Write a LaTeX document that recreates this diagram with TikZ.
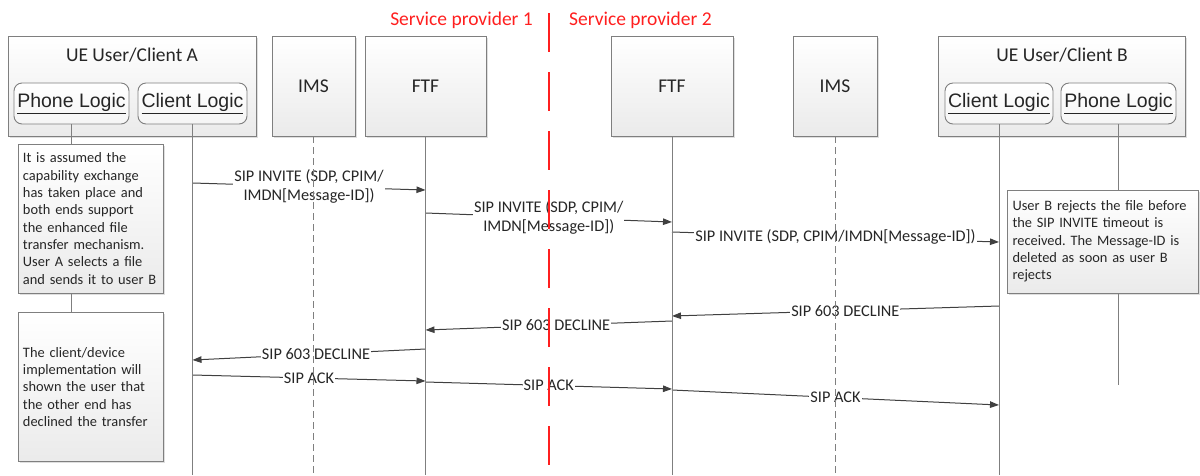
\documentclass[tikz,border=0pt]{standalone}
\usepackage{fontspec}
\setmainfont{Carlito}
\newfontfamily\logicfont{Liberation Sans}
\usepackage{xcolor}
\usepackage{tikz}
\usetikzlibrary{arrows.meta,positioning,shadows}
\frenchspacing

\definecolor{boxline}{HTML}{7F7F7F}
\definecolor{msgline}{HTML}{404040}
\definecolor{txt}{HTML}{262626}
\definecolor{spred}{HTML}{FF1F1F}

\begin{document}
\begin{tikzpicture}[x=1pt,y=-1pt,>={Triangle[length=9pt,width=6.5pt]},
  font=\fontsize{16.3}{19}\selectfont,text=txt,
  ent/.style={draw=boxline,line width=0.9pt,top color=white,bottom color=black!8,
    drop shadow={opacity=0.25,shadow xshift=1.5pt,shadow yshift=-1.5pt},
    minimum height=100pt,inner sep=0pt},
  title/.style={font=\fontsize{19.5}{23}\selectfont},
  logic/.style={draw=boxline,line width=0.9pt,rounded corners=8pt,top color=white,
    bottom color=black!4,minimum height=41pt,inner sep=0pt,
    font=\logicfont\fontsize{19.5}{22}\selectfont},
  note/.style={ent,align=left,font=\fontsize{14.4}{17.3}\selectfont},
  life/.style={draw=boxline,line width=0.9pt},
  imslife/.style={life,dash pattern=on 7pt off 4pt},
  split/.style={draw=spred,line width=2.6pt,dash pattern=on 39pt off 20pt},
  spname/.style={text=spred,inner sep=0pt,font=\fontsize{19.5}{23}\selectfont},
  msg/.style={draw=msgline,line width=1pt,->},
  lbl/.style={fill=white,inner sep=1pt,align=center}]
  \useasboundingbox (0,0) rectangle (1200,475);

  % entities
  \node[ent,minimum width=248pt] (uea) at (132,86) {};
  \node[title] (ueaname) at (132,55) {UE User/Client A};
  \node[logic,minimum width=115pt] (pla) at (71.5,103.5) {\underline{Phone Logic}};
  \node[logic,minimum width=109pt] (cla) at (192.5,103.5) {\underline{Client Logic}};
  \node[ent,title,minimum width=83pt] (ims1) at (313.5,86) {IMS};
  \node[ent,title,minimum width=121pt] (ftf1) at (425.5,86) {FTF};
  \node[ent,title,minimum width=122pt] (ftf2) at (672,86) {FTF};
  \node[ent,title,minimum width=84pt] (ims2) at (835,86) {IMS};
  \node[ent,minimum width=247pt] (ueb) at (1061.5,86) {};
  \node[title] (uebname) at (1062,55) {UE User/Client B};
  \node[logic,minimum width=108pt] (clb) at (999,103.5) {\underline{Client Logic}};
  \node[logic,minimum width=115pt] (plb) at (1118.5,103.5) {\underline{Phone Logic}};

  % provider border
  \coordinate (sptop) at (549,13);
  \coordinate (spbot) at (549,475);
  \coordinate (sphead) at (549,20);
  \node[spname,left=16pt of sphead] (sp1) {Service provider 1};
  \node[spname,right=20pt of sphead] (sp2) {Service provider 2};

  % notes
  \node[note,minimum width=145pt,minimum height=149pt,text width=135pt] (noteA1) at (90.5,218.5)
    {It is assumed the\\capability exchange\\has taken place and\\both ends support\\the enhanced file\\transfer mechanism.\\User A selects a file\\and sends it to user B};
  \node[note,minimum width=145pt,minimum height=149pt,text width=135pt] (noteA2) at (90.5,387)
    {The client/device\\implementation will\\shown the user that\\the other end has\\declined the transfer};
  \node[note,minimum width=191pt,minimum height=103pt,text width=180pt] (noteB) at (1102.5,241.5)
    {User B rejects the file before\\the SIP INVITE timeout is\\received. The Message-ID is\\deleted as soon as user B\\rejects};

  % messages
  \draw[msg] (cla |- 0,183) -- node[lbl]{SIP INVITE (SDP, CPIM/\\IMDN[Message-ID])} (ftf1 |- 0,190);
  \draw[msg] (ftf1 |- 0,213) -- node[lbl]{SIP INVITE (SDP, CPIM/\\IMDN[Message-ID])} (ftf2 |- 0,222);
  \draw[msg] (ftf2 |- 0,232) -- node[lbl]{SIP INVITE (SDP, CPIM/IMDN[Message-ID])} (clb |- 0,242);
  \draw[msg] (clb |- 0,306) -- node[lbl,pos=0.47]{SIP 603 DECLINE} (ftf2 |- 0,316);
  \draw[msg] (ftf2 |- 0,321) -- node[lbl,pos=0.47]{SIP 603 DECLINE} (ftf1 |- 0,330);
  \draw[msg] (ftf1 |- 0,349) -- node[lbl,pos=0.47]{SIP 603 DECLINE} (cla |- 0,360);
  \draw[msg] (cla |- 0,375) -- node[lbl]{SIP ACK} (ftf1 |- 0,381);
  \draw[msg] (ftf1 |- 0,382) -- node[lbl]{SIP ACK} (ftf2 |- 0,389);
  \draw[msg] (ftf2 |- 0,390) -- node[lbl]{SIP ACK} (clb |- 0,405);

  % lifelines
  \coordinate (bottom) at (0,475);
  \coordinate (plbend) at (1118.5,385);
  \draw[life] (pla.south) -- (pla.south |- noteA1.north);
  \draw[life] (noteA1.south -| pla) -- (noteA2.north -| pla);
  \draw[life] (cla.south) -- (cla |- bottom);
  \draw[imslife] (ims1.south) -- (ims1 |- bottom);
  \draw[life] (ftf1.south) -- (ftf1 |- bottom);
  \draw[life] (ftf2.south) -- (ftf2 |- bottom);
  \draw[imslife] (ims2.south) -- (ims2 |- bottom);
  \draw[life] (clb.south) -- (clb |- bottom);
  \draw[life] (plb.south) -- (plb |- noteB.north);
  \draw[life] (noteB.south -| plb) -- (plbend);
  \draw[split] (sptop) -- (spbot);
\end{tikzpicture}
\end{document}
